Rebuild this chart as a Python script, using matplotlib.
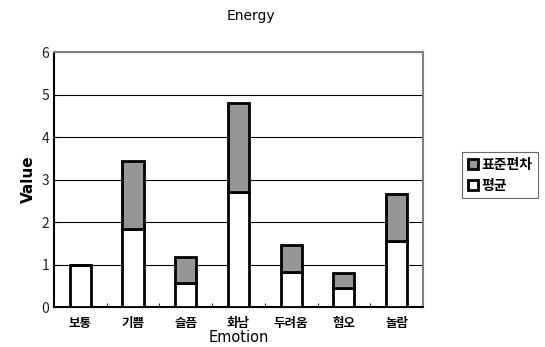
import matplotlib.pyplot as plt
import numpy as np

plt.rcParams['font.family'] = ['Noto Sans CJK KR', 'DejaVu Sans']

emotions = ['보통', '기쁨', '슬픔', '화남', '두려움', '혐오', '놀람']
mean = [1.0, 1.83, 0.56, 2.7, 0.82, 0.45, 1.55]
std = [0.0, 1.61, 0.61, 2.1, 0.63, 0.35, 1.12]

fig = plt.figure(figsize=(5.45, 3.47), dpi=100)
ax = fig.add_axes([0.099, 0.115, 0.677, 0.735])

x = np.arange(len(emotions))
b1 = ax.bar(x, mean, width=0.4, color='white', edgecolor='black', linewidth=2, label='평균', zorder=3)
b2 = ax.bar(x, std, width=0.4, bottom=mean, color='#969696', edgecolor='black', linewidth=2, label='표준편차', zorder=3)

ax.set_xlim(-0.5, len(emotions) - 0.5)
ax.set_ylim(0, 6)
ax.set_yticks(range(7))
ax.set_xticks(x)
ax.set_xticklabels(emotions, fontweight='bold', fontsize=9)
ax.set_xticks(np.arange(0.5, len(emotions) - 0.5, 1), minor=True)
ax.tick_params(axis='x', which='major', length=0, pad=7)
ax.tick_params(axis='x', which='minor', length=3, direction='in')
ax.tick_params(axis='y', length=3, direction='in', labelsize=10, labelcolor='#222222')
ax.yaxis.grid(True, color='black', linewidth=0.8, zorder=0)

for s in ['top', 'right']:
    ax.spines[s].set_color('#808080')
    ax.spines[s].set_linewidth(1.5)
for s in ['left', 'bottom']:
    ax.spines[s].set_color('black')
    ax.spines[s].set_linewidth(1.5)

ax.set_xlabel('Emotion', fontsize=10.5, family='DejaVu Sans', labelpad=0)
ax.set_ylabel('Value', fontsize=11, fontweight='bold', family='DejaVu Sans')
fig.text(0.46, 0.955, 'Energy', ha='center', va='center', fontsize=10, family='DejaVu Sans')

leg = ax.legend([b2, b1], ['표준편차', '평균'], loc='upper left', bbox_to_anchor=(1.088, 0.635),
                frameon=True, fancybox=False, edgecolor='#444444', handlelength=0.7, handleheight=0.7,
                handletextpad=0.3, borderpad=0.4, labelspacing=0.5, prop={'weight': 'bold', 'size': 10})
leg.get_frame().set_linewidth(0.8)

fig.savefig('out.png', dpi=100)
